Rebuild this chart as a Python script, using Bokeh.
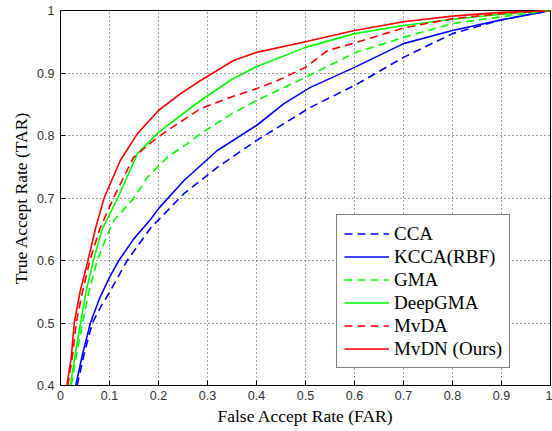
from bokeh.plotting import figure
from bokeh.models import FixedTicker, Legend, LegendItem, Range1d
from bokeh.embed import file_html
from bokeh.resources import INLINE

# ---- data ----
cca_far = [0.034, 0.048, 0.065, 0.085, 0.1, 0.136, 0.184, 0.2, 0.252, 0.32, 0.4, 0.51, 0.6, 0.7, 0.8, 0.9, 1.0]
cca_tar = [0.4, 0.45, 0.5, 0.53, 0.549, 0.6, 0.652, 0.665, 0.707, 0.749, 0.792, 0.845, 0.88, 0.925, 0.963, 0.985, 1.0]

kcca_far = [0.031, 0.045, 0.061, 0.08, 0.1, 0.119, 0.15, 0.184, 0.2, 0.252, 0.32, 0.4, 0.456, 0.51, 0.6, 0.7, 0.8, 0.9, 1.0]
kcca_tar = [0.4, 0.45, 0.5, 0.54, 0.573, 0.6, 0.635, 0.666, 0.683, 0.728, 0.776, 0.816, 0.851, 0.877, 0.909, 0.947, 0.968, 0.985, 1.0]

gma_far = [0.022, 0.033, 0.045, 0.058, 0.075, 0.095, 0.11, 0.15, 0.177, 0.218, 0.259, 0.286, 0.35, 0.4, 0.5, 0.6, 0.7, 0.8, 0.9, 1.0]
gma_tar = [0.4, 0.45, 0.5, 0.55, 0.6, 0.64, 0.665, 0.7, 0.733, 0.765, 0.787, 0.803, 0.835, 0.856, 0.893, 0.932, 0.957, 0.979, 0.99, 1.0]

deepgma_far = [0.02, 0.03, 0.041, 0.052, 0.067, 0.085, 0.117, 0.157, 0.2, 0.245, 0.286, 0.35, 0.4, 0.5, 0.6, 0.7, 0.8, 0.9, 1.0]
deepgma_tar = [0.4, 0.45, 0.5, 0.55, 0.6, 0.65, 0.7, 0.771, 0.805, 0.832, 0.856, 0.89, 0.91, 0.941, 0.963, 0.976, 0.986, 0.994, 1.0]

mvda_far = [0.015, 0.025, 0.032, 0.045, 0.06, 0.08, 0.108, 0.149, 0.19, 0.218, 0.259, 0.286, 0.35, 0.4, 0.443, 0.5, 0.545, 0.6, 0.7, 0.8, 0.9, 1.0]
mvda_tar = [0.4, 0.45, 0.5, 0.55, 0.6, 0.65, 0.7, 0.765, 0.792, 0.808, 0.829, 0.843, 0.862, 0.875, 0.888, 0.909, 0.936, 0.948, 0.972, 0.987, 0.995, 1.0]

mvdn_far = [0.013, 0.022, 0.028, 0.04, 0.056, 0.071, 0.089, 0.122, 0.157, 0.2, 0.245, 0.286, 0.353, 0.4, 0.5, 0.6, 0.7, 0.8, 0.9, 1.0]
mvdn_tar = [0.4, 0.445, 0.5, 0.55, 0.6, 0.65, 0.7, 0.76, 0.803, 0.84, 0.867, 0.888, 0.92, 0.933, 0.95, 0.968, 0.982, 0.991, 0.997, 1.0]

x_ticks = [0, 0.1, 0.2, 0.3, 0.4, 0.5, 0.6, 0.7, 0.8, 0.9, 1.0]
x_tick_labels = ["0", "0.1", "0.2", "0.3", "0.4", "0.5", "0.6", "0.7", "0.8", "0.9", "1"]
y_ticks = [0.4, 0.5, 0.6, 0.7, 0.8, 0.9, 1.0]
y_tick_labels = ["0.4", "0.5", "0.6", "0.7", "0.8", "0.9", "1"]

SERIF = "Liberation Serif"
SANS = "Liberation Sans"

p = figure(width=552, height=429, output_backend="svg", toolbar_location=None,
           x_range=Range1d(0, 1), y_range=Range1d(0.4, 1),
           frame_width=490, frame_height=375,
           min_border_left=60, min_border_right=2, min_border_top=10, min_border_bottom=44)

p.outline_line_color = "black"
p.outline_line_width = 1
p.background_fill_color = "white"
p.border_fill_color = "white"

for ax, ticks, labels in ((p.xaxis[0], x_ticks, x_tick_labels), (p.yaxis[0], y_ticks, y_tick_labels)):
    ax.ticker = FixedTicker(ticks=ticks)
    ax.major_label_overrides = {t: l for t, l in zip(ticks, labels)}
    ax.minor_tick_line_color = None
    ax.major_tick_in = 5
    ax.major_tick_out = 0
    ax.axis_line_color = "black"
    ax.major_tick_line_color = "black"
    ax.major_label_text_font = SANS
    ax.major_label_text_font_size = "12.5px"
    ax.major_label_text_color = "#303030"
    ax.axis_label_text_font = SERIF
    ax.axis_label_text_font_size = "17.5px"
    ax.axis_label_text_font_style = "normal"
    ax.axis_label_text_color = "black"

p.xaxis.axis_label = "False Accept Rate (FAR)"
p.yaxis.axis_label = "True Accept Rate (TAR)"
p.xaxis.major_label_standoff = 5
p.yaxis.major_label_standoff = 6
p.xaxis.axis_label_standoff = 3
p.yaxis.axis_label_standoff = 3

p.grid.grid_line_color = "#404040"
p.grid.grid_line_dash = "1 3"
p.grid.grid_line_width = 1
p.xgrid.ticker = FixedTicker(ticks=x_ticks)
p.ygrid.ticker = FixedTicker(ticks=y_ticks)

series = [
    ("CCA", cca_far, cca_tar, "#0000FF", "8 5"),
    ("KCCA(RBF)", kcca_far, kcca_tar, "#0000FF", "solid"),
    ("GMA", gma_far, gma_tar, "#00FF00", "8 5"),
    ("DeepGMA", deepgma_far, deepgma_tar, "#00FF00", "solid"),
    ("MvDA", mvda_far, mvda_tar, "#FF0000", "8 5"),
    ("MvDN (Ours)", mvdn_far, mvdn_tar, "#FF0000", "solid"),
]

items = []
for name, xs, ys, col, dash in series:
    r = p.line(xs, ys, line_color=col, line_width=1.6, line_dash=dash)
    items.append(LegendItem(label=name, renderers=[r]))

legend = Legend(items=items, location=(276, 17))
legend.label_text_font = SERIF
legend.label_text_font_size = "19px"
legend.label_text_color = "black"
legend.border_line_color = "black"
legend.border_line_width = 1
legend.background_fill_color = "white"
legend.background_fill_alpha = 1
legend.padding = 7
legend.spacing = 0
legend.glyph_width = 45
legend.glyph_height = 23
legend.label_height = 23
legend.label_standoff = 5
legend.margin = 0
p.add_layout(legend, "center")

open("out.html", "w").write(file_html(p, INLINE))
